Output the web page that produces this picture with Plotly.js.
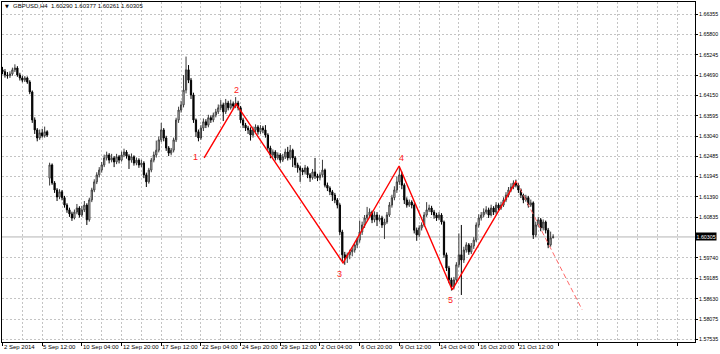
<!DOCTYPE html>
<html>
<head>
<meta charset="utf-8">
<script src="https://cdn.plot.ly/plotly-3.0.1.min.js"></script>
<style>html,body{margin:0;padding:0;background:#fff;}#chart{width:720px;height:354px;}</style>
</head>
<body>
<div id="chart"></div>
<script>
const symbolText = 'GBPUSD,H4  1.60290 1.60377 1.60261 1.60305';

const dateIdx = [0,16,32,48,64,80,96,112,128,144,160,176,192,208];
const dateText = ['2 Sep 2014','5 Sep 12:00','10 Sep 04:00','12 Sep 20:00','17 Sep 12:00','22 Sep 04:00','24 Sep 20:00','29 Sep 12:00','2 Oct 04:00','6 Oct 20:00','9 Oct 12:00','14 Oct 04:00','16 Oct 20:00','21 Oct 12:00'];

const priceTicks = [1.66355,1.65800,1.65245,1.64690,1.64150,1.63595,1.63040,1.62485,1.61945,1.61390,1.60835,1.59740,1.59185,1.58630,1.58075,1.57535];

const open = [
1.6484,1.6479,1.6470,1.6468,1.6473,1.6484,1.6489,1.6470,1.6462,1.6456,
1.6462,1.6451,1.6424,1.6348,1.6321,1.6299,1.6313,1.6305,1.6316,1.6190,
1.6226,1.6177,1.6158,1.6139,1.6153,1.6137,1.6117,1.6104,1.6093,1.6082,
1.6098,1.6109,1.6090,1.6104,1.6117,1.6077,1.6131,1.6158,1.6180,1.6199,
1.6212,1.6226,1.6245,1.6253,1.6239,1.6245,1.6234,1.6248,1.6239,1.6253,
1.6261,1.6250,1.6239,1.6248,1.6231,1.6239,1.6226,1.6231,1.6199,1.6180,
1.6212,1.6239,1.6253,1.6266,1.6294,1.6321,1.6299,1.6272,1.6258,1.6266,
1.6294,1.6348,1.6375,1.6389,1.6429,1.6484,1.6456,1.6416,1.6348,1.6316,
1.6299,1.6326,1.6343,1.6334,1.6354,1.6348,1.6361,1.6370,1.6381,1.6389,
1.6370,1.6394,1.6381,1.6392,1.6386,1.6394,1.6381,1.6348,1.6334,1.6326,
1.6321,1.6307,1.6321,1.6329,1.6316,1.6326,1.6321,1.6307,1.6272,1.6253,
1.6261,1.6245,1.6253,1.6239,1.6248,1.6261,1.6245,1.6266,1.6245,1.6226,
1.6218,1.6212,1.6207,1.6218,1.6199,1.6191,1.6207,1.6196,1.6191,1.6199,
1.6212,1.6171,1.6163,1.6153,1.6144,1.6131,1.6117,1.6044,1.5982,1.5974,
1.5982,1.5990,1.5995,1.6009,1.6022,1.6044,1.6063,1.6082,1.6090,1.6098,
1.6077,1.6090,1.6077,1.6082,1.6063,1.6071,1.6090,1.6117,1.6137,1.6158,
1.6180,1.6199,1.6171,1.6131,1.6117,1.6125,1.6117,1.6049,1.6036,1.6055,
1.6063,1.6090,1.6104,1.6109,1.6098,1.6090,1.6082,1.6090,1.6071,1.5982,
1.5946,1.5914,1.5895,1.5914,1.5955,1.5982,1.5968,1.5995,1.6009,1.5990,
1.6006,1.6022,1.6063,1.6082,1.6090,1.6098,1.6104,1.6090,1.6109,1.6098,
1.6117,1.6109,1.6117,1.6131,1.6144,1.6158,1.6166,1.6177,1.6171,1.6158,
1.6144,1.6131,1.6137,1.6117,1.6123,1.6036,1.6063,1.6077,1.6055,1.6071,
1.6049,1.6009,1.60290];

const high = [
1.6492,1.6486,1.6478,1.6480,1.6490,1.6499,1.6494,1.6476,1.6468,1.6467,
1.6466,1.6456,1.6428,1.6355,1.6326,1.6322,1.6324,1.6330,1.6320,1.6232,
1.6230,1.6182,1.6163,1.6160,1.6158,1.6142,1.6122,1.6110,1.6099,1.6105,
1.6120,1.6114,1.6115,1.6128,1.6122,1.6137,1.6164,1.6187,1.6206,1.6220,
1.6234,1.6254,1.6262,1.6258,1.6256,1.6250,1.6256,1.6253,1.6262,1.6270,
1.6266,1.6255,1.6257,1.6252,1.6246,1.6244,1.6240,1.6236,1.6205,1.6218,
1.6245,1.6262,1.6292,1.6303,1.6340,1.6326,1.6305,1.6277,1.6272,1.6300,
1.6354,1.6384,1.6400,1.6470,1.6520,1.6497,1.6462,1.6422,1.6352,1.6322,
1.6334,1.6352,1.6350,1.6362,1.6360,1.6368,1.6378,1.6390,1.6402,1.6395,
1.6405,1.6400,1.6403,1.6398,1.6410,1.6400,1.6386,1.6354,1.6340,1.6332,
1.6328,1.6330,1.6336,1.6334,1.6334,1.6332,1.6334,1.6312,1.6278,1.6268,
1.6266,1.6260,1.6258,1.6256,1.6270,1.6275,1.6280,1.6270,1.6250,1.6232,
1.6224,1.6218,1.6226,1.6222,1.6204,1.6215,1.6245,1.6202,1.6206,1.6240,
1.6216,1.6178,1.6168,1.6158,1.6150,1.6136,1.6122,1.6050,1.5990,1.5988,
1.5996,1.6002,1.6015,1.6028,1.6075,1.6072,1.6090,1.6112,1.6108,1.6102,
1.6100,1.6098,1.6090,1.6088,1.6080,1.6098,1.6125,1.6145,1.6168,1.6195,
1.6221,1.6208,1.6176,1.6138,1.6132,1.6130,1.6122,1.6056,1.6062,1.6070,
1.6098,1.6125,1.6118,1.6115,1.6104,1.6096,1.6098,1.6095,1.6075,1.5988,
1.5952,1.5920,1.5922,1.5962,1.6040,1.6063,1.6004,1.6016,1.6014,1.6014,
1.6030,1.6070,1.6092,1.6098,1.6108,1.6114,1.6110,1.6118,1.6114,1.6125,
1.6122,1.6126,1.6138,1.6152,1.6166,1.6176,1.6184,1.6186,1.6176,1.6162,
1.6148,1.6145,1.6142,1.6132,1.6127,1.6072,1.6085,1.6082,1.6078,1.6075,
1.6055,1.6045,1.60377];

const low = [
1.6472,1.6463,1.6460,1.6462,1.6468,1.6478,1.6465,1.6455,1.6450,1.6451,
1.6446,1.6418,1.6340,1.6310,1.6290,1.6294,1.6300,1.6300,1.6302,1.6170,
1.6172,1.6150,1.6128,1.6133,1.6130,1.6110,1.6096,1.6085,1.6074,1.6078,
1.6092,1.6083,1.6085,1.6098,1.6063,1.6072,1.6125,1.6152,1.6174,1.6192,
1.6205,1.6220,1.6238,1.6230,1.6233,1.6220,1.6228,1.6230,1.6235,1.6247,
1.6243,1.6215,1.6232,1.6224,1.6225,1.6218,1.6220,1.6190,1.6166,1.6175,
1.6206,1.6233,1.6246,1.6260,1.6288,1.6290,1.6264,1.6250,1.6252,1.6260,
1.6288,1.6340,1.6368,1.6382,1.6420,1.6448,1.6405,1.6340,1.6302,1.6290,
1.6294,1.6318,1.6326,1.6328,1.6340,1.6342,1.6355,1.6364,1.6375,1.6345,
1.6364,1.6374,1.6376,1.6378,1.6380,1.6374,1.6340,1.6326,1.6318,1.6310,
1.6292,1.6300,1.6314,1.6308,1.6310,1.6312,1.6300,1.6265,1.6244,1.6246,
1.6238,1.6240,1.6232,1.6234,1.6242,1.6238,1.6240,1.6220,1.6218,1.6205,
1.6180,1.6198,1.6200,1.6190,1.6180,1.6186,1.6188,1.6182,1.6184,1.6192,
1.6165,1.6155,1.6144,1.6128,1.6122,1.6108,1.6036,1.5965,1.5955,1.5960,
1.5970,1.5978,1.5988,1.6000,1.6015,1.6036,1.6055,1.6075,1.6085,1.6068,
1.6070,1.6060,1.6072,1.6055,1.6025,1.6066,1.6085,1.6110,1.6130,1.6150,
1.6172,1.6160,1.6120,1.6110,1.6112,1.6108,1.6040,1.6020,1.6030,1.6048,
1.6058,1.6085,1.6098,1.6090,1.6080,1.6074,1.6076,1.6064,1.5974,1.5938,
1.5905,1.5885,1.5888,1.5908,1.5948,1.5873,1.5960,1.5988,1.5982,1.5984,
1.5998,1.6016,1.6056,1.6075,1.6084,1.6092,1.6082,1.6086,1.6090,1.6092,
1.6102,1.6104,1.6112,1.6125,1.6138,1.6152,1.6160,1.6165,1.6150,1.6136,
1.6122,1.6126,1.6110,1.6112,1.6025,1.6030,1.6058,1.6046,1.6048,1.6040,
1.6000,1.6004,1.60261];

const close = [
1.6479,1.6470,1.6468,1.6473,1.6484,1.6489,1.6470,1.6462,1.6456,1.6462,
1.6451,1.6424,1.6348,1.6321,1.6299,1.6313,1.6305,1.6316,1.6307,1.6226,
1.6177,1.6158,1.6139,1.6153,1.6137,1.6117,1.6104,1.6093,1.6082,1.6098,
1.6109,1.6090,1.6104,1.6117,1.6077,1.6131,1.6158,1.6180,1.6199,1.6212,
1.6226,1.6245,1.6253,1.6239,1.6245,1.6234,1.6248,1.6239,1.6253,1.6261,
1.6250,1.6239,1.6248,1.6231,1.6239,1.6226,1.6231,1.6199,1.6180,1.6212,
1.6239,1.6253,1.6266,1.6294,1.6321,1.6299,1.6272,1.6258,1.6266,1.6294,
1.6348,1.6375,1.6389,1.6429,1.6484,1.6456,1.6416,1.6348,1.6316,1.6299,
1.6326,1.6343,1.6334,1.6354,1.6348,1.6361,1.6370,1.6381,1.6389,1.6370,
1.6394,1.6381,1.6392,1.6386,1.6394,1.6381,1.6348,1.6334,1.6326,1.6321,
1.6307,1.6321,1.6329,1.6316,1.6326,1.6321,1.6307,1.6272,1.6253,1.6261,
1.6245,1.6253,1.6239,1.6248,1.6261,1.6245,1.6266,1.6245,1.6226,1.6218,
1.6212,1.6207,1.6218,1.6199,1.6191,1.6207,1.6196,1.6191,1.6199,1.6212,
1.6171,1.6163,1.6153,1.6144,1.6131,1.6117,1.6044,1.5982,1.5974,1.5982,
1.5990,1.5995,1.6009,1.6022,1.6044,1.6063,1.6082,1.6090,1.6098,1.6077,
1.6090,1.6077,1.6082,1.6063,1.6071,1.6090,1.6117,1.6137,1.6158,1.6180,
1.6199,1.6171,1.6131,1.6117,1.6125,1.6117,1.6049,1.6036,1.6055,1.6063,
1.6090,1.6104,1.6109,1.6098,1.6090,1.6082,1.6090,1.6071,1.5982,1.5946,
1.5914,1.5895,1.5914,1.5955,1.5982,1.5968,1.5995,1.6009,1.5990,1.6006,
1.6022,1.6063,1.6082,1.6090,1.6098,1.6104,1.6090,1.6109,1.6098,1.6117,
1.6109,1.6117,1.6131,1.6144,1.6158,1.6166,1.6177,1.6171,1.6158,1.6144,
1.6131,1.6137,1.6117,1.6123,1.6036,1.6063,1.6077,1.6055,1.6071,1.6049,
1.6009,1.6028,1.60305];

const waveX = [81.3, 94.2, 137.3, 159.9, 181.3, 207.1];
const waveY = [1.6245, 1.6391, 1.5960, 1.6223, 1.5887, 1.6182];
const projX = [207.1, 233.7];
const projY = [1.6182, 1.5833];

const waveLabels = ['1','2','3','4','5'];
const waveLabelX = [78.0, 94.2, 135.7, 160.7, 180.8];
const waveLabelY = [1.6247, 1.6429, 1.5930, 1.6245, 1.5860];

const barIdx = close.map((_, i) => i);
const bid = close[close.length - 1];
const FONT = 'Liberation Sans, Arial, sans-serif';

const traces = [
  {
    type: 'candlestick', x: barIdx, open: open, high: high, low: low, close: close,
    increasing: {line: {color: '#3a3a3a', width: 1}, fillcolor: '#ffffff'},
    decreasing: {line: {color: '#000000', width: 1}, fillcolor: '#000000'},
    whiskerwidth: 0, hoverinfo: 'skip', showlegend: false
  },
  {
    type: 'scatter', mode: 'lines', x: waveX, y: waveY,
    line: {color: '#ff0000', width: 1.4}, hoverinfo: 'skip', showlegend: false
  },
  {
    type: 'scatter', mode: 'lines', x: projX, y: projY,
    line: {color: '#ff6a6a', width: 1, dash: '5px,3px'}, hoverinfo: 'skip', showlegend: false
  }
];

const annotations = [];
annotations.push({xref: 'paper', yref: 'paper', x: 0.0065, y: 0.989, xanchor: 'center', yanchor: 'middle',
  text: '▼', showarrow: false, font: {family: 'DejaVu Sans', size: 5, color: '#000'}});
annotations.push({xref: 'paper', yref: 'paper', x: 0.0130, y: 0.989, xanchor: 'left', yanchor: 'middle',
  text: symbolText, showarrow: false, font: {family: FONT, size: 6, color: '#000'}});
dateText.forEach((t, i) => {
  annotations.push({xref: 'x', yref: 'paper', x: dateIdx[i], y: -0.016, xanchor: 'left', yanchor: 'middle',
    text: t, showarrow: false, xshift: -1, font: {family: FONT, size: 6, color: '#000'}});
});
waveLabels.forEach((t, i) => {
  annotations.push({xref: 'x', yref: 'y', x: waveLabelX[i], y: waveLabelY[i], xanchor: 'center', yanchor: 'middle',
    text: t, showarrow: false, font: {family: FONT, size: 9, color: '#ff2020'}});
});
annotations.push({xref: 'paper', yref: 'y', x: 1, y: bid, xanchor: 'left', yanchor: 'middle', xshift: 0,
  text: bid.toFixed(5), showarrow: false, bgcolor: '#000000', borderpad: 0.5,
  font: {family: FONT, size: 5.3, color: '#ffffff'}});

const layout = {
  width: 720, height: 354,
  margin: {l: 2, r: 25, t: 2, b: 12, pad: 0},
  paper_bgcolor: '#ffffff', plot_bgcolor: '#ffffff',
  showlegend: false,
  font: {family: FONT, size: 6, color: '#000'},
  xaxis: {
    range: [-0.2, 279.2], fixedrange: true,
    rangeslider: {visible: false},
    tickmode: 'linear', tick0: 0, dtick: 16,
    ticks: 'outside', ticklen: 3, tickcolor: '#000', tickwidth: 1,
    showticklabels: false,
    showgrid: true, gridcolor: '#c4c4c4', gridwidth: 1, griddash: '2px,2px',
    minor: {tick0: 8, dtick: 16, showgrid: true, gridcolor: '#c4c4c4', gridwidth: 1, griddash: '2px,2px', ticks: ''},
    showline: true, mirror: true, linecolor: '#000', linewidth: 1, zeroline: false
  },
  yaxis: {
    range: [1.57454, 1.66681], fixedrange: true, side: 'right',
    tickmode: 'array', tickvals: priceTicks, ticktext: priceTicks.map(v => v.toFixed(5)),
    ticks: 'outside', ticklen: 2, tickcolor: '#000', tickwidth: 1,
    ticklabelstandoff: 0,
    tickfont: {family: FONT, size: 5.3, color: '#000'},
    showgrid: true, gridcolor: '#c4c4c4', gridwidth: 1, griddash: '2px,2px',
    showline: true, mirror: true, linecolor: '#000', linewidth: 1, zeroline: false
  },
  shapes: [
    {type: 'line', xref: 'paper', x0: 0, x1: 1, yref: 'y', y0: bid, y1: bid, layer: 'below',
     line: {color: '#b4b4b4', width: 1}}
  ],
  annotations: annotations
};

Plotly.newPlot('chart', traces, layout, {staticPlot: true, displayModeBar: false});
</script>
</body>
</html>
